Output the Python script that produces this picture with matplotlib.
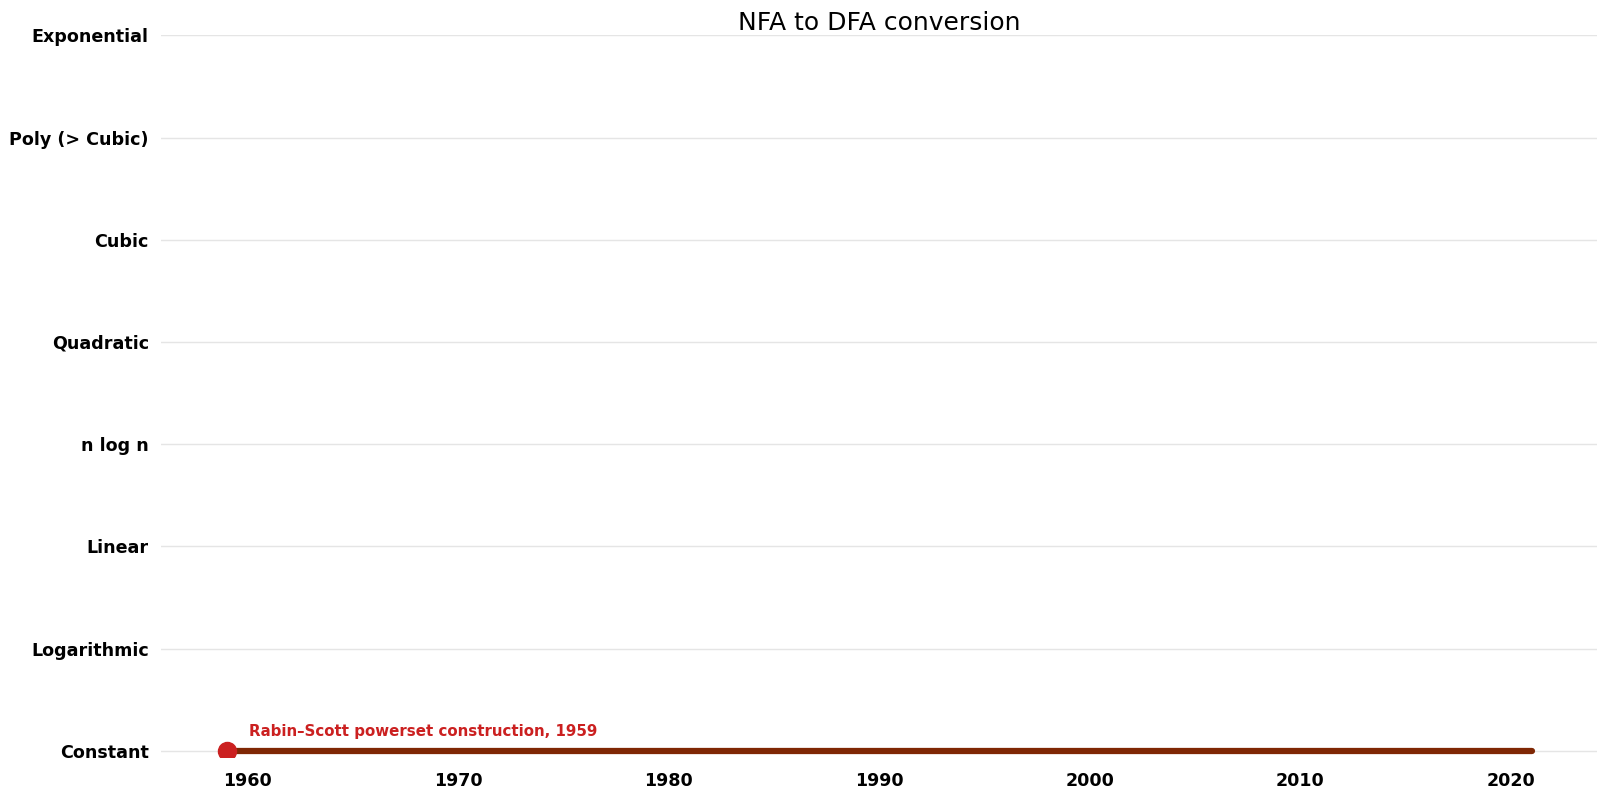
import matplotlib
matplotlib.use("Agg")
import matplotlib.pyplot as plt

# 計算量クラス（下から順）
classes = ["Constant", "Logarithmic", "Linear", "n log n", "Quadratic",
           "Cubic", "Poly (> Cubic)", "Exponential"]

# アルゴリズム（年, クラス番号, 名前）
algo_years = [1959]
algo_levels = [0]
algo_names = ["Rabin–Scott powerset construction"]

# 最良計算量の推移（階段状）
best_years = [1959, 2021]
best_levels = [0, 0]

fig, ax = plt.subplots(figsize=(16.05, 7.95), dpi=100)
fig.subplots_adjust(left=0.1005, right=0.995, top=0.9555, bottom=0.048)

ax.plot(best_years, best_levels, color="#7f2704", linewidth=4.5,
        solid_capstyle="round", zorder=3, drawstyle="steps-post")
ax.plot(algo_years, algo_levels, "o", color="#cb2020", markersize=13, zorder=4)

for yr, lv, name in zip(algo_years, algo_levels, algo_names):
    ax.annotate(f"{name}, {yr}", xy=(yr, lv), xytext=(16, 10.5),
                textcoords="offset points", color="#cb2020",
                fontsize=10.8, fontweight="bold", ha="left", va="baseline")

ax.set_ylim(-0.06, 7)
ax.set_yticks(range(len(classes)))
ax.set_yticklabels(classes)
ax.set_xticks([1960, 1970, 1980, 1990, 2000, 2010, 2020])
ax.tick_params(axis="both", length=0, labelsize=12.6)
ax.tick_params(axis="y", pad=9)
ax.tick_params(axis="x", pad=11)
for lbl in ax.get_xticklabels() + ax.get_yticklabels():
    lbl.set_fontweight("bold")

ax.grid(True, axis="y", color="#e5e5e5", linewidth=1)
ax.set_axisbelow(True)
for s in ax.spines.values():
    s.set_visible(False)

ax.set_title("NFA to DFA conversion", fontsize=18, pad=4)

fig.savefig("out.png", dpi=100)
plt.close(fig)
